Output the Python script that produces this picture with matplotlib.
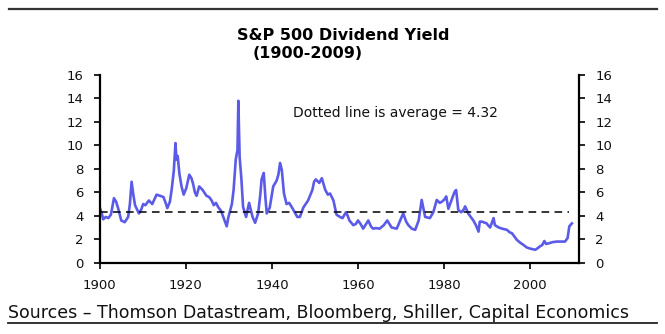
import numpy as np
import matplotlib
matplotlib.use('Agg')
import matplotlib.pyplot as plt
from matplotlib.lines import Line2D

# S&P 500 dividend yield
years = [1900.0, 1900.4, 1900.8, 1901.4, 1902.0, 1902.6, 1903.3, 1903.8, 1904.3, 1905.0,
         1905.8, 1906.6, 1907.0, 1907.4, 1907.8, 1908.2, 1909.1, 1909.6, 1910.1, 1910.6,
         1911.4, 1912.2, 1913.2, 1914.0, 1914.8, 1915.3, 1915.7, 1916.3, 1916.7, 1917.2,
         1917.6, 1917.8, 1918.1, 1918.5, 1919.0, 1919.5, 1920.1, 1920.8, 1921.3, 1921.7,
         1922.1, 1922.5, 1923.1, 1923.9, 1924.8, 1925.4, 1926.0, 1926.5, 1927.0, 1927.5,
         1928.2, 1928.7, 1929.5, 1929.9, 1930.4, 1930.7, 1931.1, 1931.6, 1932.0, 1932.2,
         1932.5, 1932.9, 1933.3, 1934.0, 1934.7, 1935.5, 1936.1, 1936.8, 1937.3, 1937.6,
         1938.1, 1938.5, 1938.8, 1939.5, 1940.3, 1941.1, 1941.5, 1941.9, 1942.3, 1942.8,
         1943.4, 1944.0, 1944.6, 1945.3, 1945.9, 1946.5, 1947.3, 1948.4, 1949.4, 1949.8,
         1950.2, 1951.0, 1951.6, 1952.0, 1952.4, 1953.0, 1953.5, 1954.3, 1955.0, 1955.8,
         1956.4, 1957.2, 1957.6, 1958.0, 1958.9, 1959.5, 1960.0, 1960.6, 1961.2, 1962.4,
         1963.0, 1963.5, 1964.2, 1965.0, 1966.0, 1966.8, 1967.8, 1969.0, 1969.8, 1970.5,
         1971.2, 1971.7, 1972.5, 1973.3, 1974.1, 1974.8, 1975.6, 1976.7, 1977.5, 1978.3,
         1979.0, 1979.5, 1980.1, 1980.5, 1981.0, 1981.8, 1982.4, 1982.8, 1983.3, 1984.0,
         1984.5, 1984.9, 1985.6, 1986.2, 1986.8, 1987.4, 1988.0, 1988.3, 1988.8, 1989.9,
         1990.2, 1990.7, 1991.5, 1991.8, 1992.7, 1993.5, 1994.6, 1995.2, 1995.8, 1996.4,
         1996.9, 1997.7, 1998.5, 1999.2, 2000.0, 2001.2, 2001.8, 2002.3, 2002.8, 2003.3,
         2003.7, 2004.3, 2005.2, 2006.2, 2007.2, 2008.1, 2008.7, 2009.1, 2009.7]
yield_pct = [4.7, 4.3, 3.7, 3.9, 3.8, 4.1, 5.5, 5.2, 4.6, 3.6,
             3.45, 3.9, 5.0, 6.9, 5.8, 4.9, 4.2, 4.5, 5.0, 4.9,
             5.3, 5.0, 5.8, 5.7, 5.6, 5.1, 4.65, 5.2, 6.2, 7.8,
             10.2, 8.8, 9.1, 7.6, 6.5, 5.8, 6.35, 7.5, 7.2, 6.7,
             6.0, 5.7, 6.5, 6.2, 5.7, 5.6, 5.3, 4.9, 5.1, 4.75,
             4.4, 3.9, 3.1, 3.9, 4.6, 5.0, 6.2, 8.8, 9.6, 13.8,
             9.0, 7.2, 4.75, 3.9, 5.1, 3.9, 3.4, 4.2, 5.8, 7.1,
             7.65, 5.5, 4.2, 4.7, 6.5, 7.0, 7.5, 8.5, 7.9, 5.9,
             5.0, 5.1, 4.75, 4.3, 3.9, 3.9, 4.7, 5.3, 6.2, 6.9,
             7.1, 6.8, 7.2, 6.7, 6.2, 5.8, 5.9, 5.3, 4.1, 3.9,
             3.8, 4.3, 4.0, 3.6, 3.2, 3.3, 3.6, 3.3, 2.9, 3.6,
             3.1, 2.9, 2.95, 2.9, 3.2, 3.6, 3.0, 2.9, 3.6, 4.2,
             3.5, 3.2, 2.9, 2.8, 3.6, 5.35, 3.9, 3.8, 4.3, 5.35,
             5.1, 5.2, 5.4, 5.65, 4.6, 5.4, 6.0, 6.2, 4.5, 4.3,
             4.5, 4.8, 4.2, 3.9, 3.6, 3.2, 2.65, 3.5, 3.5, 3.35,
             3.2, 3.0, 3.8, 3.2, 3.0, 2.9, 2.8, 2.6, 2.5, 2.2,
             1.95, 1.7, 1.5, 1.3, 1.2, 1.1, 1.25, 1.4, 1.5, 1.85,
             1.6, 1.65, 1.75, 1.8, 1.8, 1.8, 2.1, 3.1, 3.35]
average = 4.32
avg_span = [1900, 2009]
xticks = [1900, 1920, 1940, 1960, 1980, 2000]
yticks = [0, 2, 4, 6, 8, 10, 12, 14, 16]

plt.rcParams['font.family'] = 'DejaVu Sans'

fig = plt.figure(figsize=(6.65, 3.34), dpi=100)
ax = fig.add_axes([0.150, 0.2135, 0.721, 0.562])

ax.plot(years, yield_pct, color='#5b5be8', lw=1.9, solid_joinstyle='round')
ax.plot(avg_span, [average, average], color='black', lw=1.1, ls=(0, (5, 3.5)))

ax.set_xlim(1900, 2011.4)
ax.set_ylim(0, 16)
ax.set_xticks(xticks)
ax.set_yticks(yticks)
ax.spines['top'].set_visible(False)
ax.spines['right'].set_visible(True)
for s in ax.spines.values():
    s.set_linewidth(1.6)
ax.tick_params(axis='both', direction='out', length=4.5, width=1.2, labelsize=9.5,
               labelcolor='#111111', pad=7)
ax.tick_params(axis='y', right=True, labelright=True)

ax.text(0.403, 0.800, 'Dotted line is average = 4.32', transform=ax.transAxes,
        ha='left', va='center', fontsize=10, color='#111111')

fig.text(0.516, 0.893, 'S&P 500 Dividend Yield', ha='center', va='center',
         fontsize=11.5, fontweight='bold')
fig.text(0.462, 0.840, '(1900-2009)', ha='center', va='center',
         fontsize=11.5, fontweight='bold')
fig.text(0.012, 0.063, 'Sources \u2013 Thomson Datastream, Bloomberg, Shiller, Capital Economics',
         ha='left', va='center', fontsize=12.5, color='#111111')

fig.add_artist(Line2D([0.013, 0.988], [0.973, 0.973], color='#333333', lw=1.6))
fig.add_artist(Line2D([0.012, 0.988], [0.033, 0.033], color='#222222', lw=1.3))

fig.savefig('out.png', dpi=100)
